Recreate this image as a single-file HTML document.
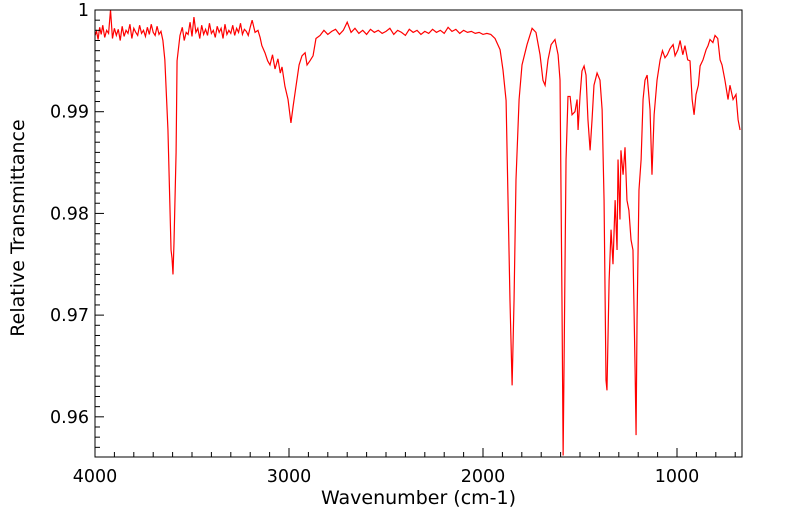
<!DOCTYPE html>
<html><head><meta charset="utf-8"><style>
body{margin:0;background:#fff;}
svg{display:block;font-family:"DejaVu Sans","Liberation Sans",sans-serif;}
</style></head><body>
<svg id="chart" width="799" height="516"></svg>
<script>
const wavenumbers=[4000,3992,3984,3976,3968,3960,3950,3940,3930,3920,3910,3900,3890,3880,3870,3860,3850,3840,3830,3820,3810,3800,3790,3780,3770,3760,3750,3740,3730,3720,3710,3700,3690,3680,3670,3660,3650,3640,3624,3608,3603,3598,3593,3582,3577,3562,3550,3540,3530,3520,3510,3500,3490,3480,3470,3460,3450,3440,3430,3420,3410,3400,3390,3380,3370,3360,3350,3340,3330,3320,3310,3300,3290,3280,3270,3260,3250,3240,3230,3220,3210,3200,3190,3175,3160,3149,3140,3124,3110,3098,3085,3072,3057,3045,3036,3021,3005,2990,2979,2964,2948,2933,2917,2907,2892,2876,2861,2840,2820,2800,2780,2760,2740,2720,2700,2680,2660,2640,2620,2600,2580,2560,2540,2520,2500,2480,2460,2440,2420,2400,2380,2360,2340,2320,2300,2280,2260,2240,2220,2200,2180,2160,2140,2120,2100,2080,2060,2040,2020,2000,1980,1960,1938,1912,1897,1881,1871,1861,1850,1840,1830,1814,1799,1773,1747,1727,1706,1691,1680,1665,1649,1629,1613,1603,1593,1587,1582,1572,1562,1551,1541,1526,1515,1510,1500,1490,1479,1469,1459,1448,1438,1428,1412,1397,1386,1376,1366,1361,1350,1340,1330,1319,1309,1304,1294,1289,1278,1268,1258,1248,1237,1227,1216,1211,1206,1196,1185,1175,1165,1154,1139,1129,1118,1103,1087,1075,1062,1050,1036,1020,1010,995,984,970,959,945,933,922,912,902,890,881,866,850,840,830,815,804,790,778,768,753,737,727,711,696,685,675,665];
const transmittance=[0.9975,0.9979,0.9971,0.9983,0.9976,0.9985,0.9973,0.9980,0.9977,1.0000,0.9972,0.9982,0.9975,0.9981,0.9970,0.9984,0.9974,0.9980,0.9977,0.9986,0.9972,0.9982,0.9978,0.9975,0.9985,0.9977,0.9980,0.9974,0.9983,0.9976,0.9986,0.9978,0.9975,0.9984,0.9976,0.9979,0.9970,0.9951,0.9882,0.9764,0.9756,0.9740,0.9770,0.9860,0.9950,0.9975,0.9983,0.9970,0.9978,0.9976,0.9988,0.9974,0.9993,0.9978,0.9982,0.9972,0.9985,0.9976,0.9981,0.9975,0.9987,0.9977,0.9980,0.9973,0.9984,0.9978,0.9982,0.9972,0.9986,0.9976,0.9980,0.9977,0.9985,0.9975,0.9982,0.9978,0.9987,0.9976,0.9981,0.9979,0.9975,0.9983,0.9990,0.9978,0.9980,0.9973,0.9965,0.9958,0.9950,0.9946,0.9956,0.9942,0.9952,0.9938,0.9944,0.9925,0.9912,0.9889,0.9905,0.9925,0.9946,0.9955,0.9958,0.9946,0.9950,0.9955,0.9972,0.9975,0.9980,0.9976,0.9979,0.9981,0.9976,0.9980,0.9988,0.9978,0.9982,0.9977,0.9980,0.9976,0.9981,0.9978,0.9980,0.9977,0.9979,0.9982,0.9976,0.9980,0.9978,0.9975,0.9981,0.9978,0.9980,0.9976,0.9979,0.9977,0.9981,0.9978,0.9980,0.9977,0.9983,0.9979,0.9981,0.9977,0.9980,0.9978,0.9979,0.9977,0.9978,0.9976,0.9977,0.9976,0.9972,0.9961,0.9941,0.9911,0.9813,0.9715,0.9631,0.9715,0.9833,0.9912,0.9946,0.9966,0.9982,0.9978,0.9956,0.9931,0.9926,0.9951,0.9966,0.9971,0.9956,0.9931,0.9715,0.9562,0.9656,0.9853,0.9915,0.9915,0.9897,0.9900,0.9912,0.9882,0.9915,0.9940,0.9945,0.9936,0.9892,0.9862,0.9892,0.9926,0.9938,0.9931,0.9902,0.9813,0.9636,0.9626,0.9734,0.9784,0.9750,0.9813,0.9764,0.9853,0.9794,0.9862,0.9838,0.9865,0.9813,0.9803,0.9774,0.9764,0.9646,0.9582,0.9695,0.9823,0.9853,0.9912,0.9931,0.9936,0.9902,0.9838,0.9897,0.9931,0.9951,0.9960,0.9953,0.9956,0.9962,0.9966,0.9955,0.9961,0.9970,0.9956,0.9965,0.9951,0.9950,0.9912,0.9897,0.9917,0.9926,0.9945,0.9951,0.9961,0.9965,0.9971,0.9968,0.9975,0.9972,0.9951,0.9946,0.9931,0.9912,0.9926,0.9912,0.9917,0.9892,0.9882];
const xTicks=[4000,3000,2000,1000];
const yTicks=[0.96,0.97,0.98,0.99,1];
const yLabels=["0.96","0.97","0.98","0.99","1"];

const NS="http://www.w3.org/2000/svg";
const svg=document.getElementById('chart');
const L=95,R=742,T=10,B=457;
const xMin=665,xMax=4000,yMin=0.95605,yMax=1;
const xs=v=>L+(xMax-v)/(xMax-xMin)*(R-L);
const ys=v=>T+(yMax-v)/(yMax-yMin)*(B-T);
function mk(tag,attrs){const e=document.createElementNS(NS,tag);for(const k in attrs)e.setAttribute(k,attrs[k]);svg.appendChild(e);return e;}

const defs=mk('defs',{});
const cp=document.createElementNS(NS,'clipPath');cp.setAttribute('id','clip');
const cr=document.createElementNS(NS,'rect');cr.setAttribute('x',L);cr.setAttribute('y',T);cr.setAttribute('width',R-L);cr.setAttribute('height',B-T);
cp.appendChild(cr);defs.appendChild(cp);

let d='';
for(let i=0;i<wavenumbers.length;i++){d+=(i?'L':'M')+xs(wavenumbers[i]).toFixed(2)+' '+ys(transmittance[i]).toFixed(2);}
const line=mk('path',{d:d,fill:'none',stroke:'#ff0000','stroke-width':1.2,'clip-path':'url(#clip)'});



const frame=mk('rect',{x:L,y:T,width:R-L,height:B-T,fill:'none',stroke:'#000','stroke-width':1});



for(let v=700;v<=4000;v+=100){
  const t=mk('line',{x1:xs(v),x2:xs(v),y1:B,y2:B-(v%1000===0?9:5),stroke:'#000','stroke-width':1});
  
  
}
xTicks.forEach(v=>{
  const t=mk('text',{x:xs(v),y:B+25,'font-size':17.5,'text-anchor':'middle',fill:'#000'});
  t.textContent=v;
  
  
});
for(let k=957;k<=1000;k++){
  const v=k/1000;
  const t=mk('line',{x1:L,x2:L+(k%10===0?9:5),y1:ys(v),y2:ys(v),stroke:'#000','stroke-width':1});
  
  
}
yTicks.forEach((v,i)=>{
  const t=mk('text',{x:L-6,y:ys(v)+6,'font-size':17.5,'text-anchor':'end',fill:'#000'});
  t.textContent=yLabels[i];
  
  
});
const xt=mk('text',{x:(L+R)/2,y:504,'font-size':19,'text-anchor':'middle',fill:'#000'});
xt.textContent='Wavenumber (cm-1)';


const yt=mk('text',{x:0,y:0,'font-size':19,'text-anchor':'middle',fill:'#000',transform:'translate(24,228) rotate(-90)'});
yt.textContent='Relative Transmittance';


</script>
</body></html>
